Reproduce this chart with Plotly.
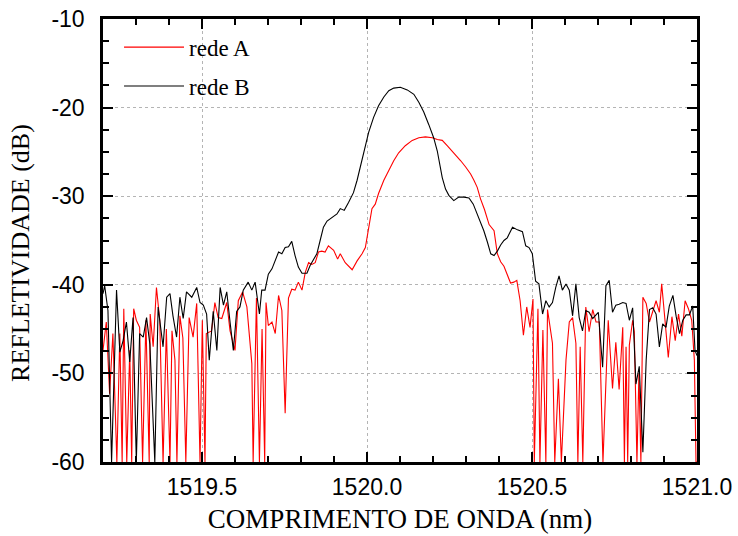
import plotly.graph_objects as go

# ---- data ----
wavelength_a = [
    1519.200, 1519.210, 1519.220, 1519.230, 1519.242, 1519.251, 1519.258, 1519.263, 1519.272, 1519.281,
    1519.287, 1519.293, 1519.301, 1519.311, 1519.320, 1519.330, 1519.340, 1519.343, 1519.352, 1519.362,
    1519.372, 1519.382, 1519.392, 1519.403, 1519.409, 1519.418, 1519.424, 1519.433, 1519.442, 1519.451,
    1519.461, 1519.473, 1519.484, 1519.494, 1519.501, 1519.509, 1519.513, 1519.529, 1519.539, 1519.549,
    1519.560, 1519.575, 1519.585, 1519.600, 1519.610, 1519.623, 1519.636, 1519.646, 1519.651, 1519.655,
    1519.665, 1519.674, 1519.682, 1519.690, 1519.694, 1519.701, 1519.712, 1519.722, 1519.732, 1519.742,
    1519.752, 1519.762, 1519.772, 1519.782, 1519.792, 1519.803, 1519.813, 1519.823, 1519.833, 1519.843,
    1519.853, 1519.863, 1519.873, 1519.883, 1519.899, 1519.911, 1519.919, 1519.934, 1519.955, 1519.970,
    1519.985, 1519.995, 1520.005, 1520.015, 1520.025, 1520.035, 1520.051, 1520.066, 1520.081, 1520.096,
    1520.116, 1520.137, 1520.157, 1520.177, 1520.198, 1520.213, 1520.228, 1520.243, 1520.263, 1520.284,
    1520.299, 1520.314, 1520.324, 1520.334, 1520.344, 1520.356, 1520.370, 1520.385, 1520.395, 1520.405,
    1520.415, 1520.425, 1520.435, 1520.445, 1520.454, 1520.464, 1520.474, 1520.484, 1520.494, 1520.503,
    1520.507, 1520.518, 1520.524, 1520.533, 1520.542, 1520.547, 1520.562, 1520.569, 1520.580, 1520.589,
    1520.603, 1520.613, 1520.623, 1520.633, 1520.639, 1520.646, 1520.654, 1520.663, 1520.673, 1520.684,
    1520.694, 1520.704, 1520.715, 1520.731, 1520.744, 1520.754, 1520.764, 1520.775, 1520.780, 1520.785,
    1520.790, 1520.795, 1520.805, 1520.810, 1520.818, 1520.824, 1520.830, 1520.836, 1520.846, 1520.856,
    1520.866, 1520.876, 1520.886, 1520.893, 1520.903, 1520.913, 1520.924, 1520.934, 1520.944, 1520.954,
    1520.964, 1520.974, 1520.984, 1520.992, 1520.997, 1521.000,
]
reflectivity_a = [
    -47.4, -44.2, -52.3, -45.5, -60.0, -45.5, -60.0, -42.7, -60.0, -47.4,
    -60.0, -42.7, -44.0, -44.8, -60.0, -44.0, -60.0, -43.3, -47.0, -40.3,
    -44.0, -60.0, -45.0, -60.0, -45.2, -48.5, -60.0, -43.5, -46.0, -60.0,
    -43.7, -45.9, -42.1, -60.0, -44.0, -60.0, -45.5, -45.2, -42.0, -43.7,
    -43.8, -42.0, -45.2, -47.4, -41.8, -40.8, -42.5, -46.6, -48.9, -60.0,
    -41.5, -60.0, -45.0, -60.0, -42.0, -44.6, -44.2, -45.5, -41.2, -42.9,
    -54.5, -41.5, -40.5, -40.6, -39.7, -40.6, -38.6, -37.5, -37.7, -37.5,
    -36.3, -36.2, -36.3, -35.6, -36.1, -37.1, -36.5, -37.5, -38.3, -37.3,
    -36.5, -35.8, -33.5, -31.4, -30.9, -29.7, -28.2, -27.1, -26.0, -25.1,
    -24.3, -23.7, -23.4, -23.3, -23.4, -23.6, -23.7, -24.3, -25.1, -26.0,
    -26.7, -27.5, -28.2, -29.0, -30.3, -31.5, -33.2, -33.9, -36.5, -37.4,
    -37.9, -38.8, -39.8, -39.7, -39.5, -41.8, -45.7, -42.5, -44.8, -41.6,
    -60.0, -42.7, -60.0, -45.1, -60.0, -42.8, -46.6, -60.0, -50.6, -60.0,
    -48.5, -44.2, -43.7, -46.6, -60.0, -47.0, -60.0, -42.5, -45.3, -42.8,
    -44.2, -44.2, -60.0, -44.0, -51.7, -46.5, -51.8, -44.8, -60.0, -47.0,
    -60.0, -46.8, -44.0, -45.3, -60.0, -50.0, -60.0, -41.4, -42.1, -44.2,
    -43.1, -41.8, -43.1, -39.9, -44.0, -48.2, -43.6, -46.3, -43.3, -45.8,
    -41.8, -42.7, -44.0, -48.5, -60.0, -60.0,
]

wavelength_b = [
    1519.200, 1519.205, 1519.215, 1519.226, 1519.241, 1519.251, 1519.261, 1519.271, 1519.281, 1519.291,
    1519.301, 1519.311, 1519.322, 1519.332, 1519.342, 1519.357, 1519.367, 1519.382, 1519.393, 1519.403,
    1519.412, 1519.423, 1519.433, 1519.443, 1519.453, 1519.469, 1519.484, 1519.494, 1519.504, 1519.514,
    1519.522, 1519.534, 1519.545, 1519.555, 1519.565, 1519.575, 1519.585, 1519.595, 1519.605, 1519.615,
    1519.625, 1519.640, 1519.651, 1519.661, 1519.674, 1519.681, 1519.691, 1519.701, 1519.712, 1519.722,
    1519.732, 1519.742, 1519.752, 1519.762, 1519.772, 1519.782, 1519.792, 1519.803, 1519.818, 1519.828,
    1519.838, 1519.848, 1519.858, 1519.868, 1519.879, 1519.894, 1519.909, 1519.919, 1519.931, 1519.944,
    1519.959, 1519.970, 1519.980, 1519.990, 1520.005, 1520.020, 1520.035, 1520.051, 1520.066, 1520.081,
    1520.101, 1520.122, 1520.142, 1520.157, 1520.172, 1520.187, 1520.202, 1520.213, 1520.221, 1520.228,
    1520.238, 1520.248, 1520.263, 1520.278, 1520.294, 1520.309, 1520.322, 1520.334, 1520.344, 1520.354,
    1520.365, 1520.375, 1520.385, 1520.395, 1520.405, 1520.415, 1520.425, 1520.435, 1520.441, 1520.456,
    1520.471, 1520.481, 1520.491, 1520.501, 1520.511, 1520.521, 1520.532, 1520.542, 1520.552, 1520.562,
    1520.572, 1520.582, 1520.592, 1520.603, 1520.613, 1520.623, 1520.633, 1520.643, 1520.653, 1520.663,
    1520.673, 1520.684, 1520.701, 1520.714, 1520.724, 1520.734, 1520.744, 1520.754, 1520.764, 1520.775,
    1520.785, 1520.795, 1520.805, 1520.815, 1520.825, 1520.836, 1520.846, 1520.856, 1520.866, 1520.876,
    1520.886, 1520.896, 1520.906, 1520.916, 1520.927, 1520.937, 1520.947, 1520.957, 1520.967, 1520.977,
    1520.987, 1520.994, 1521.000,
]
reflectivity_b = [
    -41.0, -40.1, -42.9, -60.0, -40.6, -47.6, -46.3, -44.2, -48.7, -43.7,
    -60.0, -45.5, -45.9, -43.7, -46.7, -60.0, -42.5, -47.0, -41.4, -41.0,
    -43.5, -45.9, -41.4, -43.8, -40.8, -41.4, -40.3, -42.0, -42.3, -43.3,
    -48.5, -43.0, -47.4, -40.3, -42.3, -40.8, -44.2, -47.4, -43.0, -42.5,
    -40.6, -39.7, -40.6, -39.7, -43.3, -40.6, -40.6, -38.8, -38.2, -37.3,
    -36.3, -36.5, -35.8, -35.7, -35.1, -36.7, -38.0, -38.7, -38.7, -37.8,
    -37.1, -36.5, -35.0, -33.5, -32.8, -32.4, -32.0, -31.4, -31.6, -30.7,
    -29.6, -28.2, -26.7, -24.9, -22.8, -21.1, -19.8, -18.8, -18.1, -17.8,
    -17.7, -18.0, -18.5, -19.4, -20.5, -21.9, -23.4, -24.9, -26.4, -27.9,
    -29.2, -29.9, -30.5, -30.1, -30.1, -30.2, -30.9, -32.0, -32.8, -33.9,
    -35.2, -36.5, -36.7, -36.2, -35.5, -35.0, -34.7, -34.0, -33.5, -33.8,
    -34.0, -35.6, -35.8, -36.5, -39.6, -39.9, -43.3, -41.8, -42.5, -42.0,
    -40.3, -39.0, -40.6, -39.9, -40.6, -43.5, -39.9, -43.7, -45.2, -42.9,
    -43.1, -43.8, -43.1, -49.3, -40.1, -39.5, -43.1, -42.3, -42.2, -42.0,
    -42.1, -44.0, -42.6, -51.2, -49.2, -58.9, -48.5, -42.8, -42.6, -43.3,
    -47.0, -44.4, -44.8, -42.4, -41.2, -43.6, -45.5, -44.0, -43.4, -43.4,
    -42.4, -47.4, -48.0,
]

series_names = ["rede A", "rede B"]
series_colors = ["#ff0000", "#000000"]

x_tick_values = [1519.5, 1520.0, 1520.5, 1521.0]
x_tick_labels = ["1519.5", "1520.0", "1520.5", "1521.0"]
y_tick_values = [-60, -50, -40, -30, -20, -10]
y_tick_labels = ["-60", "-50", "-40", "-30", "-20", "-10"]

x_title = "COMPRIMENTO DE ONDA (nm)"
y_title = "REFLETIVIDADE (dB)"

# ---- figure ----
fig = go.Figure()
fig.add_trace(go.Scatter(
    x=wavelength_a, y=reflectivity_a, mode="lines", name=series_names[0],
    legendgroup="a", line=dict(color=series_colors[0], width=1.1),
))
fig.add_trace(go.Scatter(
    x=wavelength_b, y=reflectivity_b, mode="lines", name=series_names[1],
    legendgroup="b", line=dict(color=series_colors[1], width=1.1),
))

tick_font = dict(family="Liberation Sans, Arial, sans-serif", size=23, color="black")
serif = "Liberation Serif, Times New Roman, serif"

common_axis = dict(
    showline=True, linewidth=2.5, linecolor="black", mirror="ticks",
    ticks="inside", ticklen=10, tickwidth=1.5, tickcolor="black",
    showgrid=True, gridcolor="#b4b4b4", griddash="dot", gridwidth=1,
    zeroline=False, tickfont=tick_font, tickmode="array", automargin=False,
)

fig.update_xaxes(
    **common_axis,
    range=[1519.2, 1521.0],
    tickvals=x_tick_values, ticktext=x_tick_labels,
    ticklabelstandoff=3,
    minor=dict(dtick=0.1, tick0=1519.2, ticks="inside", ticklen=6, tickwidth=1.5,
               tickcolor="black", showgrid=False),
    title=dict(text=x_title, font=dict(family=serif, size=27, color="black"), standoff=10),
)
fig.update_yaxes(
    **common_axis,
    range=[-60, -10],
    tickvals=y_tick_values, ticktext=y_tick_labels,
    ticklabelstandoff=11,
    minor=dict(dtick=2.5, tick0=-60, ticks="inside", ticklen=6, tickwidth=1.5,
               tickcolor="black", showgrid=False),
)

fig.add_annotation(
    text=y_title, textangle=-90, showarrow=False,
    xref="paper", yref="paper", x=-0.138, y=0.472,
    xanchor="center", yanchor="middle",
    font=dict(family=serif, size=26, color="black"),
)

fig.update_layout(
    width=738, height=536,
    margin=dict(l=103, r=41, t=19, b=74),
    paper_bgcolor="white", plot_bgcolor="white",
    showlegend=True,
    legend=dict(
        x=0.027, y=0.985, xanchor="left", yanchor="top",
        bgcolor="rgba(0,0,0,0)", borderwidth=0,
        font=dict(family=serif, size=23, color="black"),
        tracegroupgap=6, itemwidth=60,
    ),
)

# remove the browser's default 8 px body margin so the figure fills the window exactly
fig.write_html(
    "out.html",
    config={"displayModeBar": False},
    post_script="document.body.style.margin='0px';",
)
